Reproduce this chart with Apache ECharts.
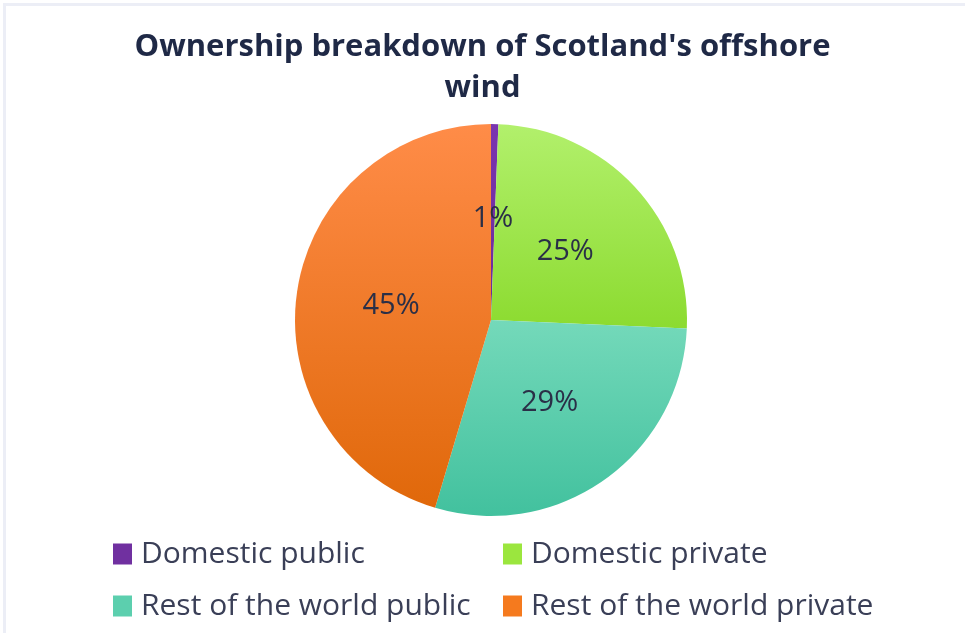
<!DOCTYPE html>
<html>
<head>
<meta charset="utf-8">
<script src="https://cdn.jsdelivr.net/npm/echarts@6/dist/echarts.min.js"></script>
<style>
  html, body { margin: 0; padding: 0; background: #fff; }
  #chart { width: 965px; height: 633px; }
</style>
</head>
<body>
<div id="chart"></div>
<script>
// values; labels show them rounded
const categories = ['Domestic public', 'Domestic private', 'Rest of the world public', 'Rest of the world private'];
const shares = [0.6, 25.1, 28.9, 45.4];

const topColors = ['#7a35b0', '#b2f06c', '#74d9ba', '#ff8c48'];
const bottomColors = ['#6a2a98', '#8cdb30', '#42c19e', '#e0680a'];
const legendColors = ['#7030a0', '#9be63e', '#5ccfae', '#f57a1e'];

const chart = echarts.init(document.getElementById('chart'));

const pieData = categories.map((name, i) => ({
    name: name,
    value: shares[i],
    itemStyle: {
        color: new echarts.graphic.LinearGradient(0, 0, 0, 1, [
            { offset: 0, color: topColors[i] },
            { offset: 1, color: bottomColors[i] }
        ])
    }
}));

const legendText = {
    fontFamily: 'Open Sans',
    fontSize: 30,
    color: '#3a3f57',
    padding: [0, 0, 0, 4]
};

function legendItems(idx) {
    return idx.map(i => ({ name: categories[i], itemStyle: { color: legendColors[i] } }));
}

chart.setOption({
    animation: false,
    title: {
        text: "Ownership breakdown of Scotland's offshore\nwind",
        left: 'center',
        top: 22,
        textStyle: {
            fontFamily: 'Open Sans',
            fontWeight: 'bold',
            fontSize: 31,
            lineHeight: 41,
            color: '#1f2946'
        }
    },
    legend: [{
        left: 108,
        top: 534,
        orient: 'vertical',
        itemWidth: 19,
        itemHeight: 21,
        itemGap: 22,
        icon: 'rect',
        textStyle: legendText,
        data: legendItems([0, 2])
    }, {
        left: 498,
        top: 534,
        orient: 'vertical',
        itemWidth: 19,
        itemHeight: 21,
        itemGap: 22,
        icon: 'rect',
        textStyle: legendText,
        data: legendItems([1, 3])
    }],
    graphic: [
        { type: 'rect', shape: { x: 3, y: 3, width: 962, height: 3 }, style: { fill: '#eceef6' } },
        { type: 'rect', shape: { x: 3, y: 3, width: 3, height: 630 }, style: { fill: '#eceef6' } }
    ],
    series: [{
        type: 'pie',
        center: [491, 320],
        radius: 196,
        startAngle: 90,
        clockwise: true,
        avoidLabelOverlap: false,
        label: {
            show: true,
            position: 'inside',
            formatter: p => Math.round(p.value) + '%',
            fontFamily: 'Open Sans',
            fontSize: 29,
            color: '#2a2f47'
        },
        labelLine: { show: false },
        itemStyle: { borderWidth: 0 },
        data: pieData
    }]
});
</script>
</body>
</html>
